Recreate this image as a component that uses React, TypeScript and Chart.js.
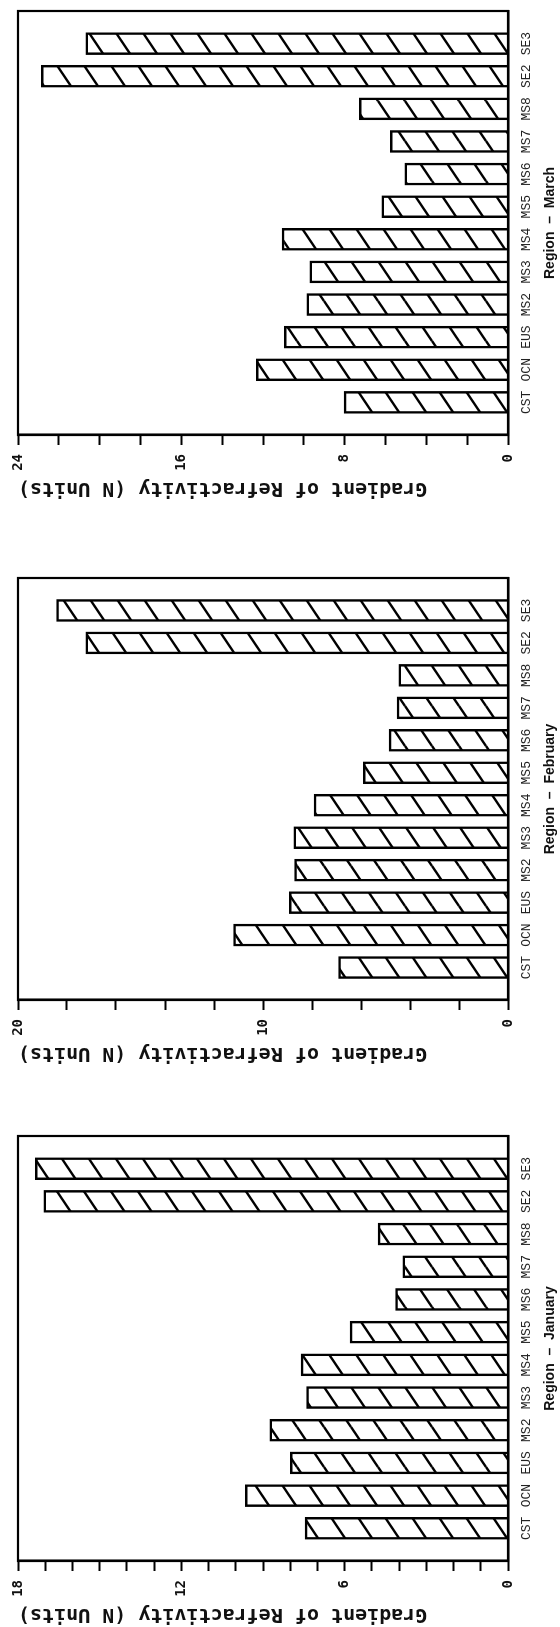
import React, { useEffect, useRef } from "react";
import { Chart, registerables } from "chart.js";

Chart.register(...registerables);

// ---------------- data ----------------
const categories = ["CST", "OCN", "EUS", "MS2", "MS3", "MS4", "MS5", "MS6", "MS7", "MS8", "SE2", "SE3"];

const januaryValues = [7.45, 9.65, 8.0, 8.75, 7.4, 7.6, 5.8, 4.13, 3.86, 4.77, 17.05, 17.36];
const februaryValues = [6.92, 11.2, 8.93, 8.71, 8.74, 7.92, 5.91, 4.85, 4.53, 4.46, 17.23, 18.43];
const marchValues = [8.03, 12.33, 10.95, 9.85, 9.71, 11.07, 6.18, 5.05, 5.76, 7.28, 22.86, 20.68];

// value-axis settings: [max, minor step, labelled every]
const januaryAxis = [18, 1, 6];
const februaryAxis = [20, 2, 10];
const marchAxis = [24, 2, 8];

const yAxisTitle = "Gradient of Refractivity (N Units)";
const januaryTitle = "Region  \u2013  January";
const februaryTitle = "Region  \u2013  February";
const marchTitle = "Region  \u2013  March";

// ---------------- helpers ----------------
function makeHatch(): CanvasPattern | string {
  const W = 40;
  const H = 27;
  const c = document.createElement("canvas");
  c.width = W;
  c.height = H;
  const g = c.getContext("2d");
  if (!g) return "#fff";
  g.fillStyle = "#fff";
  g.fillRect(0, 0, W, H);
  g.strokeStyle = "#000";
  g.lineWidth = 2.3;
  for (let dx = -1; dx <= 1; dx++) {
    for (let dy = -1; dy <= 1; dy++) {
      g.beginPath();
      g.moveTo(dx * W, H + dy * H);
      g.lineTo(W + dx * W, dy * H);
      g.stroke();
    }
  }
  const p = g.createPattern(c, "repeat");
  return p || "#fff";
}

const framePlugin = {
  id: "frameBox",
  afterDraw(chart: any) {
    const { ctx, chartArea } = chart;
    ctx.save();
    ctx.strokeStyle = "#000";
    ctx.lineWidth = 2.2;
    ctx.strokeRect(chartArea.left, chartArea.top, chartArea.right - chartArea.left, chartArea.bottom - chartArea.top);
    ctx.restore();
  },
};

type PanelProps = {
  values: number[];
  axis: number[];
  title: string;
  left: number;
  plotWidth: number;
  padRight: number;
};

const Y_AXIS_W = 66;
const PANEL_H = 560;

function Panel({ values, axis, title, left, plotWidth, padRight }: PanelProps) {
  const ref = useRef<HTMLCanvasElement | null>(null);
  const width = Y_AXIS_W + plotWidth + padRight;

  useEffect(() => {
    if (!ref.current) return;
    const [max, step, labelEvery] = axis;
    const data = values.map((v, i) => ({ x: i, y: v }));
    const chart = new Chart(ref.current, {
      type: "bar",
      data: {
        datasets: [
          {
            data,
            backgroundColor: makeHatch() as any,
            borderColor: "#000",
            borderWidth: 2.5,
            barThickness: 22,
          },
        ],
      },
      options: {
        animation: false,
        responsive: false,
        maintainAspectRatio: false,
        events: [],
        layout: { padding: { left: 0, right: padRight, top: 18, bottom: 0 } },
        plugins: { legend: { display: false }, tooltip: { enabled: false } },
        scales: {
          x: {
            type: "linear",
            min: -1,
            max: 12,
            offset: false,
            afterFit: (s: any) => {
              s.height = PANEL_H - 508;
            },
            ticks: {
              stepSize: 1,
              autoSkip: false,
              maxRotation: 0,
              minRotation: 0,
              padding: 11,
              color: "#222",
              font: { family: "'Liberation Mono', monospace", size: 13 },
              callback: (v: any) => {
                const i = Number(v);
                return Number.isInteger(i) && i >= 0 && i < categories.length ? categories[i] : "";
              },
            },
            grid: { display: true, drawOnChartArea: false, drawTicks: false },
            border: { display: true, color: "#000", width: 2.5 },
            title: {
              display: true,
              text: title,
              color: "#111",
              font: { family: "'Liberation Sans', Arial, sans-serif", size: 14, weight: "bold" },
              padding: { top: 0, bottom: 1 },
            },
          },
          y: {
            type: "linear",
            min: 0,
            max,
            afterFit: (s: any) => {
              s.width = Y_AXIS_W;
            },
            ticks: {
              stepSize: step,
              maxTicksLimit: 100,
              autoSkip: false,
              padding: 9,
              color: "#111",
              font: { family: "'DejaVu Sans Mono', monospace", size: 14, weight: "bold" },
              callback: (v: any) => (Number(v) % labelEvery === 0 ? String(v) : ""),
            },
            grid: {
              display: true,
              drawOnChartArea: false,
              drawTicks: true,
              tickLength: 10,
              tickWidth: 2,
              tickColor: "#000",
            },
            border: { display: true, color: "#000", width: 2.5 },
            title: {
              display: true,
              text: yAxisTitle,
              align: "end",
              color: "#111",
              font: { family: "'DejaVu Sans Mono', monospace", size: 20, weight: "bold" },
              padding: { top: 1, bottom: 0 },
            },
          },
        },
      },
      plugins: [framePlugin],
    } as any);
    return () => chart.destroy();
  }, [values, axis, title, padRight]);

  return (
    <canvas
      ref={ref}
      width={width}
      height={PANEL_H}
      style={{ position: "absolute", left, top: 0, width, height: PANEL_H, display: "block" }}
    />
  );
}

export default function App() {
  return (
    <div
      style={{
        position: "absolute",
        left: 0,
        top: 0,
        width: 560,
        height: 1627,
        overflow: "hidden",
        background: "#fff",
      }}
    >
      <div
        style={{
          position: "absolute",
          left: 0,
          top: 0,
          width: 1627,
          height: 560,
          transformOrigin: "0 0",
          transform: "translate(0px, 1627px) rotate(-90deg)",
        }}
      >
        <Panel values={januaryValues} axis={januaryAxis} title={januaryTitle} left={0} plotWidth={428} padRight={8} />
        <Panel values={februaryValues} axis={februaryAxis} title={februaryTitle} left={561} plotWidth={425} padRight={8} />
        <Panel values={marchValues} axis={marchAxis} title={marchTitle} left={1126} plotWidth={428} padRight={7} />
      </div>
    </div>
  );
}
